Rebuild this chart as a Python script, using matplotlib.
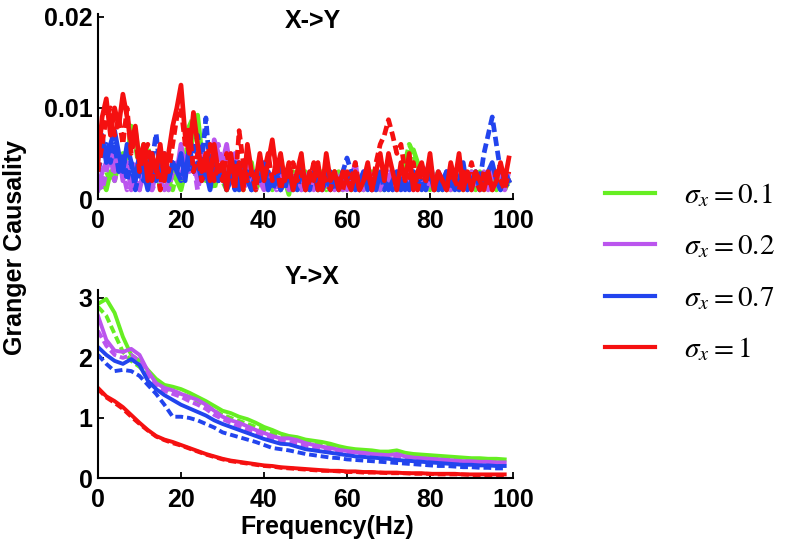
"""
Granger causality spectra X->Y and Y->X for four noise levels sigma_x.
Two stacked panels with a shared legend on the right.
"""
import matplotlib
matplotlib.use('Agg')
import matplotlib.pyplot as plt
import numpy as np
from matplotlib.lines import Line2D


W, H = 793, 543

# X->Y: 1 Hz grid, values in units of 1e-3
freq_xy = np.arange(0, 100, 1)

xy_red_solid = [4, 9, 11, 7, 10, 8, 11.5, 9, 6, 8,
                4, 6, 2, 5, 3, 6, 2, 5, 8, 10,
                12.5, 7, 5, 9.5, 6, 3, 5, 2, 6, 3,
                4, 1, 5, 2, 4, 1, 6, 3, 2, 5,
                2, 4, 6.5, 3, 5, 2, 4, 1, 3, 5,
                1, 3, 2, 4, 1, 5, 2, 3, 1, 3,
                2, 1, 3, 1, 2, 4, 1, 3, 5, 2,
                5, 3, 1, 4, 2, 5, 1, 3, 4, 2,
                5, 1, 3, 2, 1, 4, 2, 5, 1, 3,
                1, 3, 2, 1, 3, 1, 2, 4, 2, 4.5]
xy_red_dash = [3, 6, 9, 10, 7, 9, 6, 10, 5, 7,
               3, 5, 6, 2, 4, 1, 5, 3, 6, 9,
               10, 6, 8, 3, 5, 2, 4, 6, 2, 4,
               2, 5, 3, 1, 7.5, 4, 2, 3, 1, 4,
               3, 5, 2, 4, 1, 3, 2, 4, 2, 3,
               1, 2, 4, 1, 3, 2, 1, 3, 2, 1,
               3, 2, 4, 1, 2, 3, 1, 4, 6, 7,
               8.7, 7, 5, 6, 3, 2, 4, 1, 3, 2,
               4, 1, 3, 2, 1, 3, 2, 1, 3, 2,
               4, 2, 1, 3, 2, 1, 3, 2, 1, 3]
xy_blue_solid = [5, 7, 4, 6, 7.5, 5, 3, 6, 4, 2,
                 5, 3, 1, 4, 2, 3, 5, 2, 4, 3,
                 5, 2, 6, 3, 4, 2, 3, 1, 4, 2,
                 3, 1, 2, 4, 1, 3, 2, 1, 3, 2,
                 4, 1, 2, 3, 1, 2, 3, 1, 2, 4,
                 1, 2, 3, 1, 2, 3, 1, 2, 1, 3,
                 2, 3, 1, 2, 3, 1, 2, 1, 3, 2,
                 1, 2, 3, 1, 2, 1, 3, 2, 1, 2,
                 3, 1, 2, 1, 3, 2, 1, 2, 4, 1,
                 2, 3, 1, 2, 3, 4, 2, 1, 3, 2]
xy_blue_dash = [3, 5, 6, 4, 6, 3, 5, 2, 4, 1,
                3, 2, 5, 4, 7.2, 3, 5, 2, 4, 3,
                2, 4, 3, 5, 7, 4, 8.9, 3, 5, 2,
                4, 2, 3, 1, 4, 2, 3, 1, 2, 4,
                2, 3, 1, 2, 4, 1, 3, 2, 1, 3,
                2, 1, 3, 2, 1, 2, 3, 1, 2, 3,
                4.5, 3, 2, 1, 3, 2, 1, 2, 3, 1,
                2, 1, 3, 2, 1, 2, 3, 1, 2, 1,
                3, 2, 1, 2, 3, 1, 2, 1, 3, 2,
                1, 3, 2, 5, 7, 9, 6, 3, 2, 1]
xy_green_solid = [1, 2, 1, 3, 2, 4, 3, 5, 6, 7.6,
                  4, 6, 3, 5, 2, 4, 3, 1, 3, 2,
                  1, 3, 5, 7, 9.2, 5, 3, 2, 4, 2,
                  4, 1, 3, 2, 1, 3, 2, 4, 1, 2,
                  3, 1, 2, 4, 1, 2, 0.5, 3, 1, 2,
                  3, 1, 2, 1, 3, 2, 1, 2, 3, 1,
                  2, 1, 3, 2, 1, 2, 3, 1, 2, 1,
                  2, 3, 1, 2, 4, 5, 5.4, 4, 2, 3,
                  1, 2, 3, 1, 2, 1, 3, 2, 1, 2,
                  3, 1, 2, 1, 3, 2, 1, 2, 3, 2]
xy_green_dash = [2, 1, 3, 2, 4, 3, 5, 4, 8, 6,
                 3, 5, 6, 2, 4, 1, 3, 2, 1, 3,
                 2, 4, 8, 9, 6, 3, 2, 4, 1, 3,
                 2, 1, 3, 4, 2, 1, 3, 2, 1, 4,
                 2, 3, 1, 2, 1, 3, 2, 1, 2, 3,
                 1, 2, 3, 1, 2, 1, 2, 3, 1, 2,
                 3, 1, 2, 1, 2, 3, 1, 2, 1, 3,
                 2, 1, 3, 2, 4, 6, 5, 3, 2, 1,
                 2, 3, 1, 2, 1, 3, 2, 1, 2, 3,
                 1, 2, 3, 1, 2, 1, 3, 2, 1, 2]
xy_purple_solid = [1, 3, 4, 6, 3, 5, 2, 4, 1, 2,
                   1, 3, 2, 1, 3, 2, 1, 2, 4, 3,
                   6, 3, 5, 4, 2, 5, 3, 2, 6.5, 5,
                   4, 6, 3, 5, 2, 3, 4, 1, 3, 2,
                   1, 3, 2, 4, 1, 2, 3, 1, 2, 1,
                   2, 3, 1, 2, 1, 3, 2, 1, 2, 3,
                   1, 2, 4, 1, 3, 2, 1, 2, 1, 3,
                   2, 1, 3, 1, 2, 3, 1, 2, 3, 1,
                   2, 1, 3, 2, 1, 2, 3, 1, 2, 1,
                   3, 2, 1, 2, 1, 3, 2, 1, 3, 2]
xy_purple_dash = [2, 1, 3, 5, 2, 4, 3, 1, 2, 4,
                  1, 3, 2, 1, 2, 4, 2, 1, 3, 4,
                  2, 5, 3, 4, 1, 3, 2, 4, 5, 6,
                  3, 5, 4, 2, 3, 1, 2, 3, 1, 2,
                  3, 1, 2, 1, 3, 2, 1, 2, 3, 1,
                  2, 1, 3, 2, 1, 2, 1, 3, 2, 1,
                  2, 3, 1, 2, 1, 2, 3, 1, 2, 1,
                  3, 2, 1, 2, 3, 1, 2, 1, 2, 3,
                  4, 2, 1, 2, 3, 1, 2, 1, 3, 2,
                  1, 2, 1, 3, 2, 1, 2, 3, 1, 3]

# Y->X: 2 Hz grid
freq_yx = np.arange(0, 100, 2)

yx_green_solid = [2.90, 2.98, 2.75, 2.35, 2.05, 1.95, 1.80, 1.65, 1.55, 1.52,
                  1.48, 1.42, 1.35, 1.28, 1.20, 1.12, 1.08, 1.02, 0.98, 0.92,
                  0.85, 0.80, 0.74, 0.70, 0.68, 0.64, 0.62, 0.60, 0.57, 0.53,
                  0.50, 0.48, 0.47, 0.46, 0.44, 0.44, 0.46, 0.42, 0.40, 0.39,
                  0.38, 0.37, 0.36, 0.35, 0.34, 0.33, 0.33, 0.32, 0.32, 0.31]
yx_green_dash = [2.85, 2.70, 2.40, 2.10, 1.95, 1.85, 1.72, 1.60, 1.50, 1.45,
                 1.40, 1.35, 1.28, 1.20, 1.12, 1.05, 1.00, 0.95, 0.90, 0.85,
                 0.80, 0.74, 0.70, 0.66, 0.63, 0.60, 0.58, 0.55, 0.52, 0.50,
                 0.47, 0.45, 0.44, 0.43, 0.42, 0.41, 0.40, 0.39, 0.37, 0.36,
                 0.35, 0.34, 0.33, 0.32, 0.31, 0.30, 0.30, 0.29, 0.29, 0.28]
yx_purple_solid = [2.70, 2.30, 2.12, 2.10, 2.15, 2.05, 1.78, 1.58, 1.50, 1.46,
                   1.40, 1.35, 1.30, 1.22, 1.12, 1.02, 0.96, 0.92, 0.86, 0.80,
                   0.75, 0.70, 0.66, 0.66, 0.63, 0.58, 0.55, 0.52, 0.50, 0.47,
                   0.45, 0.43, 0.42, 0.40, 0.39, 0.38, 0.40, 0.36, 0.34, 0.33,
                   0.32, 0.31, 0.30, 0.29, 0.28, 0.28, 0.27, 0.27, 0.26, 0.26]
yx_purple_dash = [2.45, 2.20, 2.05, 2.00, 2.05, 1.95, 1.70, 1.52, 1.45, 1.40,
                  1.35, 1.28, 1.22, 1.15, 1.05, 0.98, 0.92, 0.86, 0.80, 0.75,
                  0.70, 0.66, 0.62, 0.60, 0.57, 0.54, 0.51, 0.48, 0.46, 0.44,
                  0.42, 0.40, 0.39, 0.38, 0.36, 0.35, 0.34, 0.33, 0.32, 0.31,
                  0.30, 0.29, 0.28, 0.27, 0.27, 0.26, 0.26, 0.25, 0.25, 0.24]
yx_blue_solid = [2.18, 2.05, 1.95, 1.90, 1.98, 1.88, 1.62, 1.48, 1.38, 1.30,
                 1.22, 1.16, 1.10, 1.04, 0.96, 0.90, 0.85, 0.80, 0.75, 0.70,
                 0.65, 0.61, 0.57, 0.56, 0.52, 0.48, 0.46, 0.44, 0.42, 0.40,
                 0.38, 0.36, 0.35, 0.34, 0.33, 0.32, 0.30, 0.29, 0.28, 0.27,
                 0.26, 0.25, 0.24, 0.23, 0.22, 0.22, 0.21, 0.21, 0.20, 0.20]
yx_blue_dash = [2.05, 1.90, 1.78, 1.80, 1.78, 1.70, 1.55, 1.40, 1.22, 1.02,
                1.02, 1.00, 0.96, 0.90, 0.84, 0.76, 0.72, 0.68, 0.64, 0.60,
                0.55, 0.50, 0.48, 0.46, 0.43, 0.40, 0.38, 0.36, 0.34, 0.33,
                0.31, 0.30, 0.29, 0.28, 0.27, 0.26, 0.25, 0.24, 0.23, 0.22,
                0.21, 0.20, 0.20, 0.19, 0.18, 0.18, 0.17, 0.17, 0.16, 0.16]
yx_red_solid = [1.50, 1.36, 1.28, 1.18, 1.05, 0.92, 0.80, 0.70, 0.64, 0.60,
                0.55, 0.50, 0.45, 0.40, 0.36, 0.32, 0.29, 0.27, 0.25, 0.23,
                0.21, 0.20, 0.18, 0.17, 0.16, 0.15, 0.14, 0.13, 0.12, 0.12,
                0.11, 0.11, 0.10, 0.10, 0.09, 0.09, 0.09, 0.08, 0.08, 0.08,
                0.07, 0.07, 0.07, 0.07, 0.06, 0.06, 0.06, 0.06, 0.06, 0.06]
yx_red_dash = [1.48, 1.34, 1.25, 1.15, 1.02, 0.90, 0.79, 0.69, 0.63, 0.58,
               0.54, 0.49, 0.44, 0.39, 0.35, 0.31, 0.28, 0.26, 0.24, 0.22,
               0.20, 0.19, 0.17, 0.16, 0.15, 0.14, 0.13, 0.12, 0.12, 0.11,
               0.10, 0.10, 0.09, 0.09, 0.09, 0.08, 0.08, 0.08, 0.07, 0.07,
               0.07, 0.06, 0.06, 0.06, 0.06, 0.05, 0.05, 0.05, 0.05, 0.05]

sigma_labels = ['0.1', '0.2', '0.7', '1']
colors = ['#66ee22', '#bb55ee', '#2244ee', '#f51010']

XY = [(xy_green_solid, xy_green_dash), (xy_purple_solid, xy_purple_dash),
      (xy_blue_solid, xy_blue_dash), (xy_red_solid, xy_red_dash)]
YX = [(yx_green_solid, yx_green_dash), (yx_purple_solid, yx_purple_dash),
      (yx_blue_solid, yx_blue_dash), (yx_red_solid, yx_red_dash)]

FONT = 'Liberation Sans'
FS = 18


def px_axes(fig, left, top, right, bottom):
    """Axes placed by pixel box (origin top-left)."""
    return fig.add_axes([left / W, 1 - bottom / H, (right - left) / W, (bottom - top) / H])


def style_axes(ax):
    for side in ('top', 'right'):
        ax.spines[side].set_visible(False)
    for side in ('left', 'bottom'):
        ax.spines[side].set_linewidth(1.5)
    ax.tick_params(direction='in', length=4, width=1.3, labelsize=FS)
    ax.tick_params(axis='x', pad=7)
    ax.tick_params(axis='y', pad=4)
    for lab in ax.get_xticklabels() + ax.get_yticklabels():
        lab.set_fontfamily(FONT)
        lab.set_fontweight('bold')


def draw_panel(ax, x, series, scale, lw):
    dash = (0, (2, 1))
    for (solid, dashed), c in zip(series, colors):
        ax.plot(x, np.array(dashed) * scale, color=c, lw=lw, ls=dash,
                solid_capstyle='butt')
        ax.plot(x, np.array(solid) * scale, color=c, lw=lw)


def main():
    plt.rcParams['mathtext.fontset'] = 'stix'
    fig = plt.figure(figsize=(W / 100, H / 100), dpi=100)

    ax1 = px_axes(fig, 98, 14, 513, 199)
    draw_panel(ax1, freq_xy, XY, 1e-3, 3.4)
    ax1.set_xlim(0, 100)
    ax1.set_ylim(0, 0.0203)
    ax1.set_xticks([0, 20, 40, 60, 80, 100])
    ax1.set_yticks([0, 0.01, 0.02])
    ax1.set_yticklabels(['0', '0.01', '0.02'])
    style_axes(ax1)

    ax2 = px_axes(fig, 98, 290, 513, 478)
    draw_panel(ax2, freq_yx, YX, 1.0, 2.8)
    ax2.set_xlim(0, 100)
    ax2.set_ylim(0, 3.13)
    ax2.set_xticks([0, 20, 40, 60, 80, 100])
    ax2.set_yticks([0, 1, 2, 3])
    style_axes(ax2)

    bold = dict(fontfamily=FONT, fontweight='bold', fontsize=FS)
    fig.text(313 / W, 1 - 21 / H, 'X->Y', ha='center', va='center', **bold)
    fig.text(312 / W, 1 - 277 / H, 'Y->X', ha='center', va='center', **bold)
    fig.text(327 / W, 1 - 527 / H, 'Frequency(Hz)', ha='center', va='center', **bold)
    fig.text(15 / W, 1 - 247 / H, 'Granger Causality', ha='center', va='center',
             rotation=90, **bold)

    handles = [Line2D([], [], color=c, lw=3) for c in colors]
    labels = [r'$\sigma_x = %s$' % s for s in sigma_labels]
    fig.legend(handles, labels, loc='upper left',
               bbox_to_anchor=(579 / W, 1 - 155 / H), frameon=False,
               prop={'family': 'serif', 'size': 21}, handlelength=1.7,
               handletextpad=1.0, labelspacing=0.8)

    fig.savefig('out.png', dpi=100)


if __name__ == '__main__':
    main()
